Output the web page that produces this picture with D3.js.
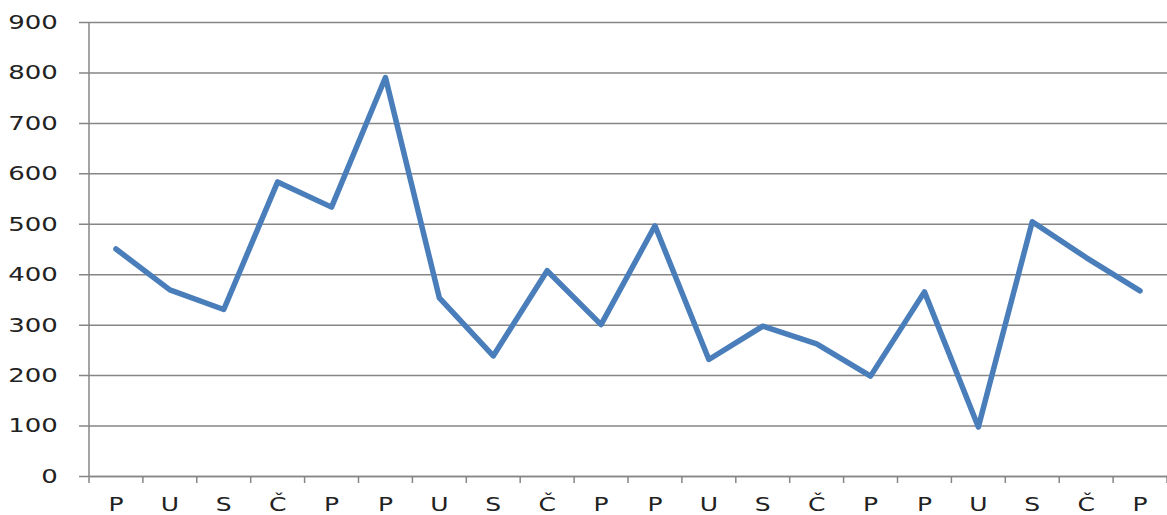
<!DOCTYPE html>
<meta charset="utf-8">
<style>
body { margin: 0; background: #fff; }
text { font-family: "DejaVu Sans", Verdana, sans-serif; fill: #222; }
.domain { stroke: #868686; stroke-width: 1.5; }
.tick line { stroke: #868686; stroke-width: 1.5; }
</style>
<body>
<div id="chart"></div>
<script src="https://cdn.jsdelivr.net/npm/d3@7"></script>
<script>
var days = ["P","U","S","Č","P","P","U","S","Č","P","P","U","S","Č","P","P","U","S","Č","P"];
var values = [450, 369, 330, 583, 533, 790, 353, 238, 407, 300, 496, 231, 297, 262, 198, 365, 97, 504, 433, 367];
var yTicks = [0, 100, 200, 300, 400, 500, 600, 700, 800, 900];

var margin = {top: 22, right: 0, bottom: 39, left: 89},
    width = 1167 - margin.left - margin.right,
    height = 515 - margin.top - margin.bottom;

var svg = d3.select("#chart").append("svg")
    .attr("width", 1167)
    .attr("height", 515)
  .append("g")
    .attr("transform", "translate(" + margin.left + "," + margin.top + ")");

// one band per day, index as key since names repeat
var x = d3.scaleBand()
    .domain(days.map(function(d, i) { return i; }))
    .range([0, width]);

var y = d3.scaleLinear()
    .domain([0, 900])
    .range([height, 0]);

// horizontal grid + y labels
var yAxis = svg.append("g")
    .call(d3.axisLeft(y).tickValues(yTicks).tickSize(-width).tickPadding(0));
yAxis.select(".domain").remove();
yAxis.selectAll(".tick line").attr("x1", -10);
yAxis.selectAll(".tick text")
    .attr("x", -24)
    .attr("transform", "scale(1.3,1)")
    .style("font-size", "20px");

// y axis line
svg.append("line")
    .attr("x1", 0).attr("x2", 0)
    .attr("y1", 0).attr("y2", height)
    .attr("stroke", "#868686")
    .attr("stroke-width", 1.5);

// x axis, labels centred in each band
var xAxis = svg.append("g")
    .attr("transform", "translate(0," + height + ")")
    .call(d3.axisBottom(x).tickSize(0).tickSizeOuter(0).tickFormat(function(i) { return days[i]; }));
xAxis.select(".domain").attr("stroke", "#868686").attr("stroke-width", 1.5);
xAxis.selectAll(".tick text")
    .attr("y", 21)
    .attr("x", 0)
    .attr("transform", "scale(1.25,1)")
    .style("font-size", "20px");

// tick marks sit between categories
svg.append("g")
  .selectAll("line")
  .data(d3.range(days.length + 1))
  .enter().append("line")
    .attr("x1", function(i) { return i * x.bandwidth(); })
    .attr("x2", function(i) { return i * x.bandwidth(); })
    .attr("y1", height)
    .attr("y2", height + 7)
    .attr("stroke", "#868686")
    .attr("stroke-width", 1.5);

var line = d3.line()
    .x(function(d, i) { return x(i) + x.bandwidth() / 2; })
    .y(function(d) { return y(d); });

svg.append("path")
    .datum(values)
    .attr("fill", "none")
    .attr("stroke", "#4a7ebb")
    .attr("stroke-width", 5.5)
    .attr("stroke-linejoin", "round")
    .attr("stroke-linecap", "round")
    .attr("d", line);
</script>
</body>
